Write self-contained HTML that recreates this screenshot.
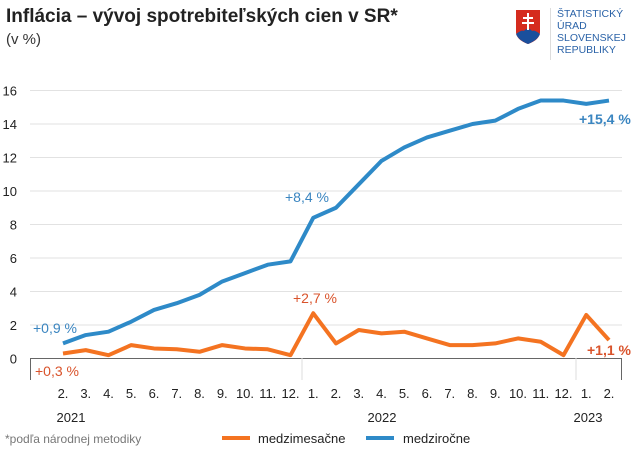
<!DOCTYPE html><html><head><meta charset="utf-8"><style>
body{margin:0;background:#fff;font-family:"Liberation Sans",sans-serif}
svg text{font-family:"Liberation Sans",sans-serif}
</style></head><body>
<svg id="s" width="640" height="457" xmlns="http://www.w3.org/2000/svg">
<text x="6" y="22" font-size="19" font-weight="bold" fill="#222">Inflácia – vývoj spotrebiteľských cien v SR*</text>
<text x="6" y="44" font-size="15" fill="#333">(v %)</text>
<g>
<path d="M516 10h24v22c0 6-6 10-12 12c-6-2-12-6-12-12z" fill="#d52b1e"/>
<path d="M516 34c4-3 6-4 8-3c2-3 6-3 8 0c2-1 4 0 8 3c-2 5-7 8-12 10c-5-2-10-5-12-10z" fill="#1a4f9c"/>
<path d="M527 13h2v4h4v2h-4v3h5v2h-5v6h-2v-6h-5v-2h5v-3h-4v-2h4z" fill="#fff"/>
<rect x="550" y="8" width="1" height="52" fill="#ddd"/>
<text x="557" y="17" font-size="10.5" fill="#2b63a8">ŠTATISTICKÝ</text>
<text x="557" y="29" font-size="10.5" fill="#2b63a8">ÚRAD</text>
<text x="557" y="41" font-size="10.5" fill="#2b63a8">SLOVENSKEJ</text>
<text x="557" y="53" font-size="10.5" fill="#2b63a8">REPUBLIKY</text>
</g>
<g id="g"></g>
</svg>
<script>
var g=document.getElementById('g'),h='';
var Y=v=>358.5-v*16.75, X=i=>63+i*22.75;
for(var v=2;v<=16;v+=2){h+=`<line x1="30" x2="622" y1="${Y(v)}" y2="${Y(v)}" stroke="#e2e2e2"/>`;}
for(var v=0;v<=16;v+=2)h+=`<text x="17" y="${Y(v)+5}" font-size="13" text-anchor="end" fill="#222">${v}</text>`;
h+=`<line x1="30" x2="622" y1="358.5" y2="358.5" stroke="#666"/>`;
h+=`<line x1="30.5" x2="30.5" y1="358" y2="380" stroke="#666"/><line x1="621.5" x2="621.5" y1="358" y2="380" stroke="#666"/>`;
h+=`<line x1="302" x2="302" y1="358" y2="380" stroke="#ddd"/><line x1="576" x2="576" y1="358" y2="380" stroke="#ddd"/>`;
var m=[2,3,4,5,6,7,8,9,10,11,12,1,2,3,4,5,6,7,8,9,10,11,12,1,2];
m.forEach((k,i)=>h+=`<text x="${X(i)}" y="398" font-size="13" text-anchor="middle" fill="#222">${k}.</text>`);
h+=`<text x="71" y="422" font-size="13" text-anchor="middle" fill="#222">2021</text><text x="382" y="422" font-size="13" text-anchor="middle" fill="#222">2022</text><text x="588" y="422" font-size="13" text-anchor="middle" fill="#222">2023</text>`;
var b=[0.9,1.4,1.6,2.2,2.9,3.3,3.8,4.6,5.1,5.6,5.8,8.4,9.0,10.4,11.8,12.6,13.2,13.6,14.0,14.2,14.9,15.4,15.4,15.2,15.4];
var o=[0.3,0.5,0.2,0.8,0.6,0.55,0.4,0.8,0.6,0.55,0.2,2.7,0.9,1.7,1.5,1.6,1.2,0.8,0.8,0.9,1.2,1.0,0.2,2.6,1.1];
var pl=(a,c)=>`<polyline fill="none" stroke="${c}" stroke-width="4" stroke-linejoin="round" points="${a.map((v,i)=>X(i)+','+Y(v)).join(' ')}"/>`;
h+=pl(o,'#f47321')+pl(b,'#2e8ac8');
h+=`<text x="33" y="333" font-size="14" fill="#3a85c0">+0,9 %</text><text x="285" y="202" font-size="14" fill="#3a85c0">+8,4 %</text><text x="579" y="124" font-size="14" font-weight="bold" fill="#3a85c0">+15,4 %</text>`;
h+=`<text x="35" y="376" font-size="14" fill="#d9532b">+0,3 %</text><text x="293" y="303" font-size="14" fill="#d9532b">+2,7 %</text><text x="587" y="355" font-size="14" font-weight="bold" fill="#d9532b">+1,1 %</text>`;
h+=`<text x="5" y="443" font-size="12" fill="#777">*podľa národnej metodiky</text>`;
h+=`<line x1="222" x2="250" y1="438" y2="438" stroke="#f47321" stroke-width="4"/><text x="258" y="443" font-size="13" fill="#222">medzimesačne</text>`;
h+=`<line x1="366" x2="394" y1="438" y2="438" stroke="#2e8ac8" stroke-width="4"/><text x="403" y="443" font-size="13" fill="#222">medziročne</text>`;
g.innerHTML=h;
</script>
</body></html>
